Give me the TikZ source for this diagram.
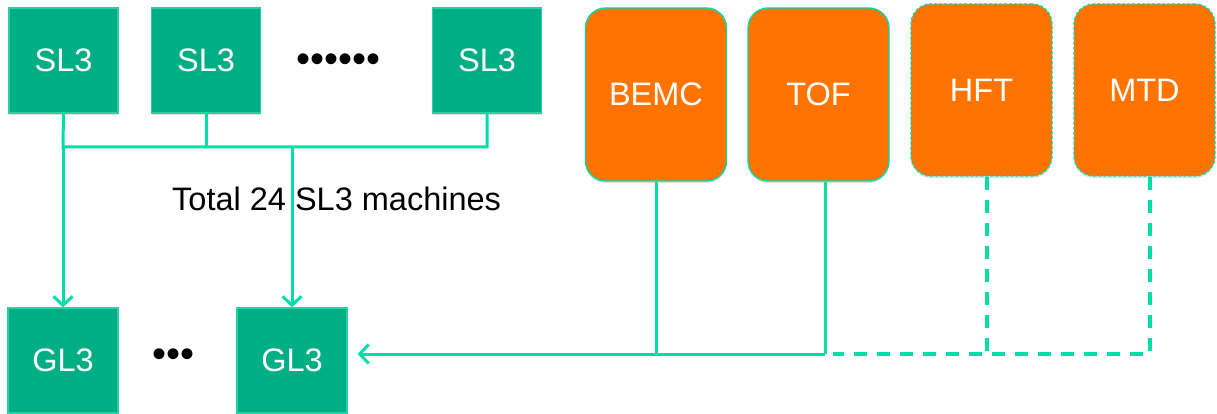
\documentclass[tikz,border=0pt]{standalone}
\usepackage{fontspec}
\setmainfont{Liberation Sans}
\usetikzlibrary{arrows.meta,shadows}

\definecolor{nodegreen}{RGB}{0,174,134}
\definecolor{rimgreen}{RGB}{40,210,160}
\definecolor{linkgreen}{RGB}{0,221,168}
\definecolor{detorange}{RGB}{255,115,0}

\begin{document}
\begin{tikzpicture}[x=1pt,y=-1pt,
  lbl/.style={font=\fontsize{32.5}{38}\selectfont},
  machine/.style={lbl, draw=rimgreen, line width=1.2pt, fill=nodegreen, text=white,
    minimum width=109pt, minimum height=105pt, inner sep=0pt,
    drop shadow={opacity=0.25, shadow xshift=0pt, shadow yshift=-2pt}},
  detector/.style={lbl, draw=linkgreen, line width=1.4pt, fill=detorange, text=white,
    rounded corners=20pt, minimum width=141pt, minimum height=173pt, inner sep=0pt,
    drop shadow={opacity=0.25, shadow xshift=0pt, shadow yshift=-2pt}},
  planned/.style={detector, dashed, dash pattern=on 3pt off 2pt, minimum height=172pt},
  link/.style={draw=linkgreen, line width=3pt},
  future/.style={link, line width=3.5pt, dash pattern=on 13pt off 10pt},
  tip/.style={-{Straight Barb[length=9pt,width=19pt]}},
  dots/.style={font=\fontsize{40}{40}\selectfont, inner sep=0pt}
]
\useasboundingbox (0,0) rectangle (1217,414);

% level-3 machines
\node[machine] (sl1) at (63.5,60.5) {SL3};
\node[machine] (sl2) at (206,60.5) {SL3};
\node[machine] (sl3) at (487,60.5) {SL3};
\node[dots] (sldots) at (339,63) {••••••};

\node[machine, minimum width=110pt] (gl1) at (63,360.5) {GL3};
\node[machine, minimum width=110pt] (gl2) at (292,360.5) {GL3};
\node[dots] (gldots) at (174,358) {•••};

% detectors
\node[detector] (bemc) at (656,94.5) {BEMC};
\node[detector] (tof) at (818.5,94.5) {TOF};
\node[planned] (hft) at (981.5,90) {HFT};
\node[planned] (mtd) at (1144.5,90) {MTD};

% bus points
\coordinate (busL) at (63,147);
\coordinate (busM) at (292,147);
\coordinate (busR) at (487,147);
\coordinate (bemcdrop) at (656,354);
\coordinate (tofdrop) at (825,354);
\coordinate (hftdrop) at (987,354);
\coordinate (mtddrop) at (1150,354);

% SL3 bus
\draw[link] (sl1.south) -- (busL) -- (busR) -- (sl3.south);
\draw[link] (sl2.south) -- (sl2.south |- busL);
\draw[link, tip] (busL) -- (gl1.north);
\draw[link, tip] (busM) -- (gl2.north);

% detector bus
\draw[link] (bemc.south) -- (bemcdrop);
\draw[link] (tof.south -| tofdrop) -- (tofdrop);
\draw[link, tip, shorten >=10pt] (tofdrop) -- (gl2.east |- tofdrop);
\draw[future] (hft.south -| hftdrop) -- (hftdrop);
\draw[future] (mtd.south -| mtddrop) -- (mtddrop) -- ([xshift=8pt]tofdrop);

\node[lbl, anchor=base west, inner sep=0pt] (total) at (172,210) {Total 24 SL3 machines};
\end{tikzpicture}
\end{document}
